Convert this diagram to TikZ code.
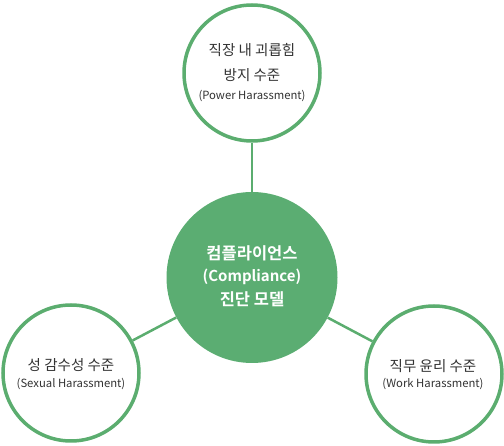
\documentclass[tikz,border=0pt]{standalone}
\usepackage{fontspec}
\setmainfont{Noto Sans CJK KR}
\newfontfamily\krbold{Noto Sans CJK KR Bold}
\definecolor{grn}{HTML}{5BAD6F}
\definecolor{grnfill}{HTML}{5BAD72}
\definecolor{txtc}{HTML}{333333}
\begin{document}
\begin{tikzpicture}[x=1pt,y=-1pt,
  ring/.style={circle,draw=grn,line width=3.5pt,fill=white,minimum size=136pt,inner sep=0pt},
  hub/.style={circle,fill=grnfill,minimum size=171pt,inner sep=0pt},
  conn/.style={draw=grn,line width=2.5pt},
  kr/.style={text=txtc,font=\fontsize{14.5}{16}\selectfont,inner sep=0pt},
  en/.style={text=txtc,font=\fontsize{11.3}{12}\selectfont,inner sep=0pt},
  hubtxt/.style={text=white,font=\krbold\fontsize{16.5}{18}\selectfont,inner sep=0pt},
  hubtxten/.style={text=white,font=\krbold\fontsize{15}{18}\selectfont,inner sep=0pt}
]
\useasboundingbox (0,0) rectangle (504,446);
\node[hub] (hub) at (252,277.5) {};
\node[ring] (top) at (252,73) {};
\node[ring] (left) at (71,373) {};
\node[ring] (right) at (434,374) {};
\draw[conn] (top) -- (hub);
\draw[conn] (hub) -- (left);
\draw[conn] (hub) -- (right);
% texts
\node[kr] (t1) at (252,50) {직장 내 괴롭힘};
\node[kr] (t2) at (252,75) {방지 수준};
\node[en] (t3) at (252,96) {(Power Harassment)};
\node[hubtxt] (h1) at (252,253) {컴플라이언스};
\node[hubtxten] (h2) at (252,277) {(Compliance)};
\node[hubtxt] (h3) at (252,299) {진단 모델};
\node[kr] (l1) at (71,365) {성 감수성 수준};
\node[en] (l2) at (71,384) {(Sexual Harassment)};
\node[kr] (r1) at (433,366) {직무 윤리 수준};
\node[en] (r2) at (433,384) {(Work Harassment)};
\end{tikzpicture}
\end{document}
